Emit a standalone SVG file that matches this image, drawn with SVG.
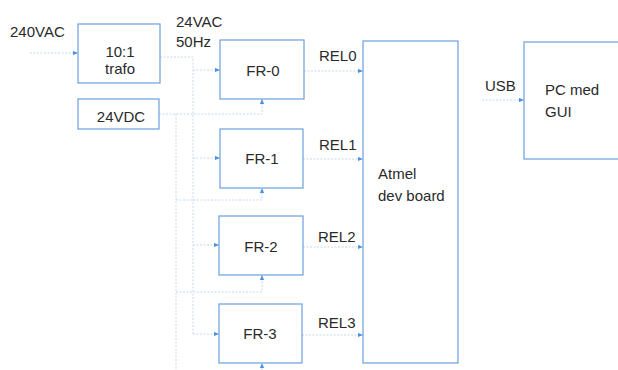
<svg xmlns="http://www.w3.org/2000/svg" width="618" height="370" viewBox="0 0 618 370">
<style>
.box{fill:#fff;stroke:#6a9fdc;stroke-width:1.2}
.t{font-family:"Liberation Sans",Arial,sans-serif;font-size:15px;fill:#2a2a2a}
.c{text-anchor:middle}
.w{fill:none;stroke:#c6d9f0;stroke-width:1;stroke-dasharray:2 1.5}
.a{fill:none;stroke:#c6d9f0;stroke-width:1;stroke-dasharray:2 1.5;marker-end:url(#ah)}
</style>
<defs>
<marker id="ah" viewBox="0 0 6 6" refX="6" refY="3" markerWidth="5" markerHeight="5" markerUnits="userSpaceOnUse" orient="auto">
<path d="M0,0.5 L6,3 L0,5.5 Z" fill="#4a90e2"/>
</marker>
</defs>
<rect width="618" height="370" fill="#fff"/>
<g id="connectors">
<path class="a" d="M30,53 H78"/>
<path class="w" d="M160,57 H193 V334"/>
<path class="a" d="M193,70 H220"/>
<path class="a" d="M193,158 H220"/>
<path class="a" d="M193,245 H219"/>
<path class="a" d="M193,334 H219"/>
<path class="a" d="M159,114 H262 V99"/>
<path class="w" d="M176,114 V370"/>
<path class="a" d="M176,200 H262 V188"/>
<path class="a" d="M176,292 H262 V275"/>
<path class="a" d="M262,370 V363"/>
<path class="a" d="M304,71 H363"/>
<path class="a" d="M303,159 H363"/>
<path class="a" d="M303,247 H363"/>
<path class="a" d="M302,335 H363"/>
<path class="a" d="M482,100 H524"/>
</g>
<g id="lbl-240vac"><text class="t" x="10" y="37">240VAC</text></g>
<g id="lbl-24vac"><text class="t" x="176" y="27">24VAC</text><text class="t" x="176" y="47">50Hz</text></g>
<g id="trafo"><rect class="box" x="78" y="24" width="82" height="59"/><text class="t c" x="120" y="57">10:1</text><text class="t c" x="120" y="74">trafo</text></g>
<g id="dc24"><rect class="box" x="78" y="99" width="81" height="30"/><text class="t c" x="121" y="122">24VDC</text></g>
<g id="fr0"><rect class="box" x="220" y="40" width="84" height="59"/><text class="t c" x="263" y="76">FR-0</text></g>
<g id="fr1"><rect class="box" x="220" y="129" width="83" height="59"/><text class="t c" x="262" y="164">FR-1</text></g>
<g id="fr2"><rect class="box" x="219" y="216" width="84" height="59"/><text class="t c" x="261" y="252">FR-2</text></g>
<g id="fr3"><rect class="box" x="219" y="304" width="83" height="59"/><text class="t c" x="260" y="339">FR-3</text></g>
<g id="rel-labels"><text class="t" x="319" y="61">REL0</text><text class="t" x="319" y="150">REL1</text><text class="t" x="318" y="242">REL2</text><text class="t" x="318" y="328">REL3</text></g>
<g id="atmel"><rect class="box" x="363" y="41" width="95" height="322"/><text class="t" x="378" y="179">Atmel</text><text class="t" x="378" y="201">dev board</text></g>
<g id="usb-label"><text class="t" x="485" y="91">USB</text></g>
<g id="pc"><rect class="box" x="524" y="42" width="100" height="117"/><text class="t" x="545" y="95">PC med</text><text class="t" x="545" y="117">GUI</text></g>
</svg>
